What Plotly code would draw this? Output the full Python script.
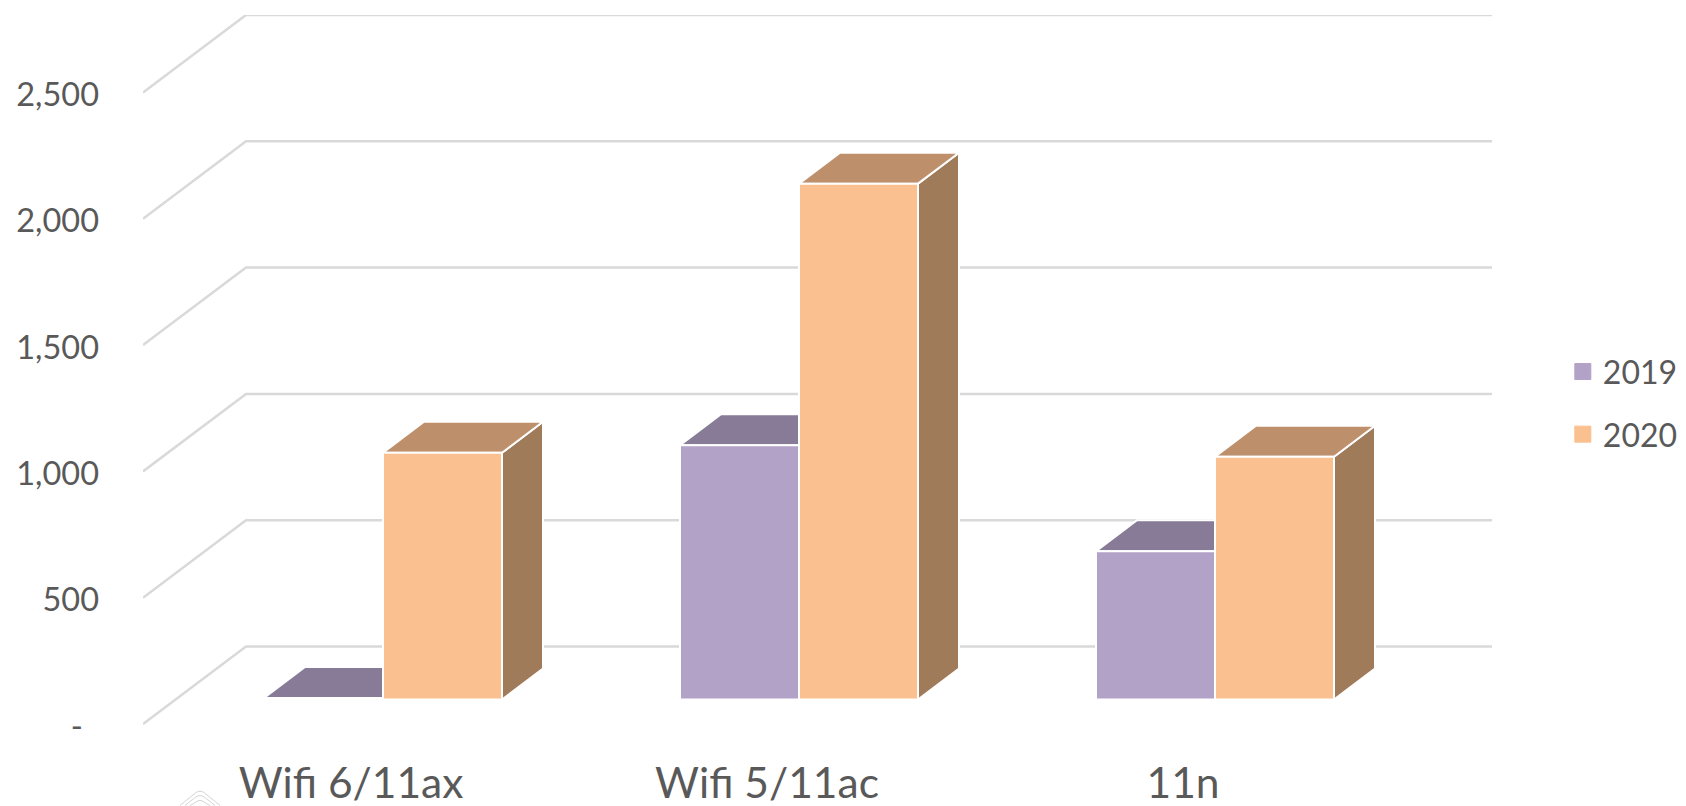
import plotly.graph_objects as go

categories = ["Wifi 6/11ax", "Wifi 5/11ac", "11n"]
series_names = ["2019", "2020"]
values_2019 = [6, 1007, 587]
values_2020 = [977, 2042, 961]
y_ticks = [0, 500, 1000, 1500, 2000, 2500]
y_tick_labels = ["-\u2002", "500", "1,000", "1,500", "2,000", "2,500"]

TEXT = "#595959"
GRID = "#D9D9D9"
MARK = "#D4D4D4"
FRONT = {"2019": "#B3A2C7", "2020": "#FAC090"}
TOP = {"2019": "#887B97", "2020": "#BE8F6B"}
SIDE = {"2019": "#887B97", "2020": "#A07B5A"}

# The page body adds an 8 px offset; the canvas is a little wider than the window
# so that the legend box fits without pushing the plot area.
W, H = 1700, 798
L, R, T = 135, 1484, 7
ZERO = 716.5              # pixel row of value 0 on the front wall
B = ZERO + 5              # plot bottom, a little under the zero line
UX = 1248 / 3.0
UY = (ZERO - 84.5) / 2500.0
xr = [-0.5, -0.5 + (R - L) / UX]
yr = [-(B - ZERO) / UY, (ZERO - T) / UY]
WALL_DX = 103 / UX
WALL_DY = 77.5 / UY
BAR_DX = 32 / UX
BAR_DY = 24.5 / UY
BOX_DX = 41 / UX
BOX_DY = 31 / UY
BAR_W = 119 / UX
LABEL_NUDGE = 2.2 / UY    # tick labels sit slightly under their gridline start
EDGE = 2

fig = go.Figure()

for v in y_ticks:
    fig.add_trace(go.Scatter(
        x=[xr[0], xr[0] + WALL_DX, xr[1]],
        y=[v, v + WALL_DY, v + WALL_DY],
        mode="lines", line=dict(color=GRID, width=2.5),
        showlegend=False, hoverinfo="skip", xaxis="x", yaxis="y"))

all_vals = {"2019": values_2019, "2020": values_2020}
for si, name in enumerate(series_names):
    for ci, v in enumerate(all_vals[name]):
        x0 = ci + BAR_DX + (si - 1) * BAR_W
        x1 = x0 + BAR_W
        b = BAR_DY
        top = v + BAR_DY
        fig.add_trace(go.Scatter(
            x=[x1, x1 + BOX_DX, x1 + BOX_DX, x1, x1],
            y=[b, b + BOX_DY, top + BOX_DY, top, b],
            mode="lines", fill="toself", fillcolor=SIDE[name],
            line=dict(color="white", width=EDGE),
            showlegend=False, hoverinfo="skip"))
        fig.add_trace(go.Scatter(
            x=[x0, x1, x1 + BOX_DX, x0 + BOX_DX, x0],
            y=[top, top, top + BOX_DY, top + BOX_DY, top],
            mode="lines", fill="toself", fillcolor=TOP[name],
            line=dict(color="white", width=EDGE),
            showlegend=False, hoverinfo="skip"))

for name in series_names:
    fig.add_trace(go.Bar(
        x=list(range(len(categories))), y=all_vals[name], name=name,
        marker=dict(color=FRONT[name], line=dict(color="white", width=EDGE)),
        xaxis="x2", yaxis="y2", legendgroup=name, showlegend=False))
    fig.add_trace(go.Scatter(
        x=[None], y=[None], name=name, mode="markers",
        marker=dict(symbol="square", size=16, color=FRONT[name],
                    line=dict(color=FRONT[name], width=1)),
        legendgroup=name, showlegend=True))

# faint logo fragment cut off by the bottom edge of the page
def px(p):
    return (p - L) / (R - L)

def py(p):
    return (B - p) / (B - T)

shapes = []
CX, LOW = 192, 798
for apex, dx in ((782.7, 20), (787, 15), (792, 10)):
    path = (f"M {px(CX - dx)},{py(LOW)} L {px(CX - 6)},{py(apex + 4)} "
            f"Q {px(CX)},{py(apex - 2)} {px(CX + 6)},{py(apex + 4)} "
            f"L {px(CX + dx)},{py(LOW)}")
    shapes.append(dict(type="path", xref="paper", yref="paper", path=path,
                       layer="above", line=dict(color=MARK, width=1)))

font = "Lato, 'Open Sans', sans-serif"
fig.update_layout(
    width=W, height=H, autosize=False,
    margin=dict(l=L, r=W - R, t=T, b=H - B, pad=0),
    paper_bgcolor="white", plot_bgcolor="white",
    font=dict(family=font, color=TEXT, size=32),
    barmode="group", bargap=1 - 2 * BAR_W, bargroupgap=0,
    showlegend=True, shapes=shapes,
    legend=dict(x=1.0525, y=py(395.5), xanchor="left", yanchor="middle",
                itemsizing="trace", tracegroupgap=18,
                font=dict(size=32, color=TEXT), bgcolor="rgba(0,0,0,0)"),
    xaxis=dict(range=xr, tickmode="array", tickvals=list(range(len(categories))),
               ticktext=categories, tickfont=dict(size=42.5), showgrid=False,
               zeroline=False, showline=False, ticks="", ticklabelstandoff=25,
               automargin=False),
    yaxis=dict(range=yr, tickmode="array",
               tickvals=[v - LABEL_NUDGE for v in y_ticks], ticktext=y_tick_labels,
               tickfont=dict(size=32.5), showgrid=False, zeroline=False, showline=False,
               ticks="", ticklabelstandoff=43, automargin=False),
    xaxis2=dict(range=[xr[0] - BAR_DX, xr[1] - BAR_DX], overlaying="x", visible=False),
    yaxis2=dict(range=[yr[0] - BAR_DY, yr[1] - BAR_DY], overlaying="y", visible=False),
)

fig.write_html("out.html")
